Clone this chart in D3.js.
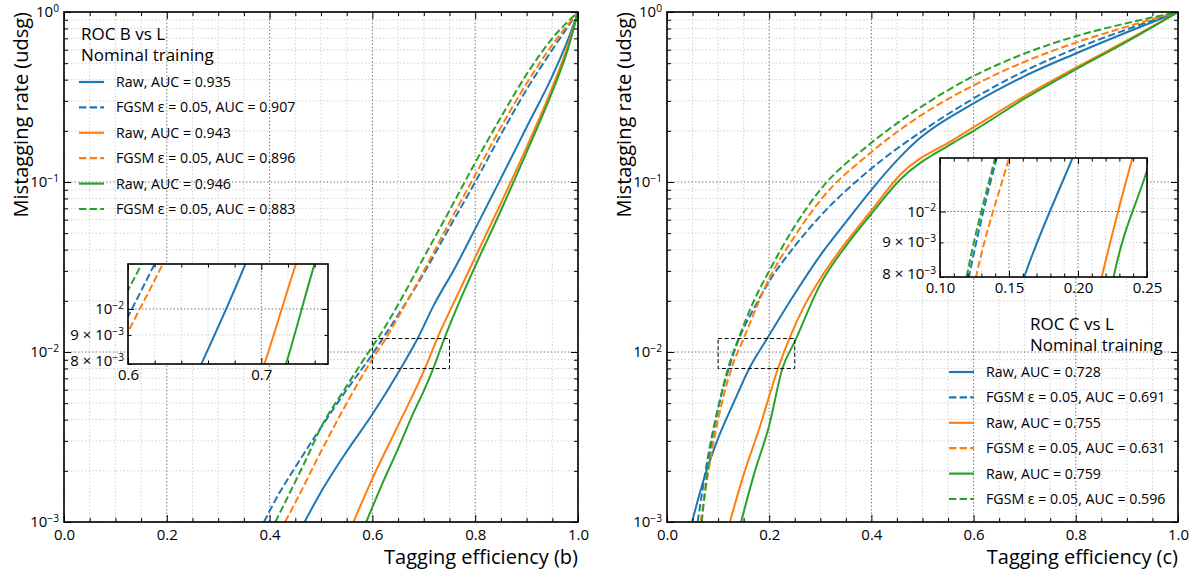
<!DOCTYPE html>
<html>
<head>
<meta charset="utf-8">
<script src="https://cdn.jsdelivr.net/npm/d3@7"></script>
<style>
  body { margin: 0; background: #fff; }
  text { font-family: "Open Sans", "DejaVu Sans", sans-serif; fill: #000; }
</style>
</head>
<body>
<svg id="chart" width="1195" height="571"></svg>
<script>
// ---- data (efficiency, mistag rate) ----
const colors = ['#1f77b4', '#ff7f0e', '#2ca02c']

// panel (b): ROC B vs L
const bBlueRaw = [[0.468,0.001],[0.5,0.0015],[0.55,0.0026],[0.6,0.0043],[0.655,0.008],[0.688,0.012],[0.72,0.019],[0.76,0.031],[0.8,0.053],[0.85,0.105],[0.9,0.21],[0.95,0.42],[0.98,0.68],[1,1]]
const bBlueFgsm = [[0.389,0.001],[0.42,0.0015],[0.45,0.0021],[0.5,0.0036],[0.55,0.006],[0.6,0.0097],[0.62,0.012],[0.65,0.0165],[0.7,0.029],[0.75,0.054],[0.8,0.1],[0.85,0.19],[0.9,0.35],[0.95,0.6],[1,1]]
const bOrangeRaw = [[0.563,0.001],[0.6,0.0018],[0.65,0.0037],[0.7023,0.008],[0.726,0.012],[0.76,0.02],[0.8,0.036],[0.85,0.075],[0.9,0.16],[0.95,0.36],[0.98,0.63],[1,1]]
const bOrangeFgsm = [[0.43,0.001],[0.45,0.0013],[0.5,0.0026],[0.55,0.005],[0.6,0.0091],[0.626,0.012],[0.65,0.016],[0.7,0.03],[0.75,0.058],[0.8,0.11],[0.85,0.21],[0.9,0.38],[0.95,0.64],[1,1]]
const bGreenRaw = [[0.588,0.001],[0.62,0.0017],[0.65,0.0027],[0.68,0.0044],[0.7,0.0059],[0.7185,0.008],[0.739,0.0118],[0.77,0.02],[0.8,0.032],[0.85,0.068],[0.9,0.15],[0.95,0.34],[0.98,0.6],[1,1]]
const bGreenFgsm = [[0.411,0.001],[0.44,0.0015],[0.47,0.0023],[0.5,0.0036],[0.55,0.0063],[0.6,0.0108],[0.6103,0.012],[0.65,0.019],[0.7,0.036],[0.75,0.068],[0.8,0.13],[0.85,0.24],[0.9,0.43],[0.95,0.7],[1,1]]
const bLabels = ['Raw, AUC = 0.935', 'FGSM ε = 0.05, AUC = 0.907', 'Raw, AUC = 0.943', 'FGSM ε = 0.05, AUC = 0.896', 'Raw, AUC = 0.946', 'FGSM ε = 0.05, AUC = 0.883']
const bTitle = ['ROC B vs L', 'Nominal training']

// panel (c): ROC C vs L
const cBlueRaw = [[0.049,0.001],[0.07,0.0017],[0.1,0.0031],[0.13,0.005],[0.161,0.008],[0.196,0.012],[0.25,0.022],[0.3,0.037],[0.35,0.058],[0.4,0.09],[0.456,0.14],[0.491,0.177],[0.6,0.29],[0.7,0.42],[0.8,0.57],[0.9,0.76],[1,1]]
const cBlueFgsm = [[0.06,0.001],[0.08,0.0024],[0.1,0.0047],[0.1209,0.008],[0.1411,0.012],[0.17,0.018],[0.2,0.026],[0.25,0.042],[0.3,0.063],[0.4,0.12],[0.5,0.2],[0.6,0.31],[0.7,0.45],[0.8,0.61],[0.9,0.79],[1,1]]
const cOrangeRaw = [[0.123,0.001],[0.15,0.0019],[0.18,0.0035],[0.2172,0.008],[0.2394,0.012],[0.27,0.019],[0.3,0.027],[0.35,0.044],[0.4,0.068],[0.456,0.11],[0.56,0.177],[0.6,0.21],[0.7,0.32],[0.8,0.47],[0.9,0.68],[1,1]]
const cOrangeFgsm = [[0.066,0.001],[0.08,0.0019],[0.1,0.004],[0.1261,0.008],[0.15,0.012],[0.2,0.027],[0.25,0.048],[0.3,0.078],[0.4,0.15],[0.5,0.25],[0.6,0.37],[0.7,0.51],[0.8,0.66],[0.9,0.82],[1,1]]
const cGreenRaw = [[0.145,0.001],[0.17,0.0019],[0.2,0.0037],[0.2258,0.008],[0.25,0.0115],[0.3,0.025],[0.35,0.042],[0.4,0.065],[0.456,0.103],[0.56,0.17],[0.6,0.2],[0.7,0.31],[0.8,0.46],[0.9,0.67],[1,1]]
const cGreenFgsm = [[0.068,0.001],[0.08,0.0021],[0.1,0.0046],[0.1193,0.008],[0.1399,0.012],[0.17,0.02],[0.2,0.03],[0.25,0.055],[0.3,0.09],[0.4,0.17],[0.5,0.28],[0.6,0.42],[0.7,0.57],[0.8,0.72],[0.9,0.86],[1,1]]
const cLabels = ['Raw, AUC = 0.728', 'FGSM ε = 0.05, AUC = 0.691', 'Raw, AUC = 0.755', 'FGSM ε = 0.05, AUC = 0.631', 'Raw, AUC = 0.759', 'FGSM ε = 0.05, AUC = 0.596']
const cTitle = ['ROC C vs L', 'Nominal training']

// ticks
const xMajor = [0, 0.2, 0.4, 0.6, 0.8, 1.0]
const xMinor = d3.range(0, 1.0001, 0.05).filter(v => Math.abs(v * 5 - Math.round(v * 5)) > 1e-6)
const yMajor = [1e-3, 1e-2, 1e-1, 1]
const yMinor = [1e-3, 1e-2, 1e-1].flatMap(d => d3.range(2, 10).map(k => k * d))

const svg = d3.select('#chart')
let clipId = 0

const sup = (sel, base, exp) => {
  sel.append('tspan').text(base)
  sel.append('tspan').attr('dy', '-0.5em').attr('font-size', '0.68em').text(exp)
}

const series = (blueRaw, blueFgsm, orangeRaw, orangeFgsm, greenRaw, greenFgsm) => [
  { pts: blueRaw, color: colors[0], dash: false },
  { pts: blueFgsm, color: colors[0], dash: true },
  { pts: orangeRaw, color: colors[1], dash: false },
  { pts: orangeFgsm, color: colors[1], dash: true },
  { pts: greenRaw, color: colors[2], dash: false },
  { pts: greenFgsm, color: colors[2], dash: true }
]

function drawCurves (g, x, y, curves) {
  const id = 'clip' + (clipId++)
  const [x0, x1] = x.range()
  const [y1, y0] = y.range()
  g.append('clipPath').attr('id', id)
    .append('rect').attr('x', x0).attr('y', y0).attr('width', x1 - x0).attr('height', y1 - y0)
  const line = d3.line().x(d => x(d[0])).y(d => y(d[1])).curve(d3.curveMonotoneX)
  g.append('g').attr('clip-path', `url(#${id})`)
    .selectAll('path').data(curves).join('path')
    .attr('d', d => line(d.pts))
    .attr('fill', 'none')
    .attr('stroke', d => d.color)
    .attr('stroke-width', 2)
    .attr('stroke-dasharray', d => d.dash ? '7.4,3.2' : null)
}

function drawGrid (g, x, y, xmaj, xmin, ymaj, ymin) {
  const [x0, x1] = x.range()
  const [y1, y0] = y.range()
  const gl = g.append('g').attr('fill', 'none')
  gl.selectAll('.vmin').data(xmin).join('line')
    .attr('x1', d => x(d)).attr('x2', d => x(d)).attr('y1', y0).attr('y2', y1)
    .attr('stroke', '#c8c8c8').attr('stroke-width', 0.8).attr('stroke-dasharray', '1.5,2')
  gl.selectAll('.hmin').data(ymin).join('line')
    .attr('y1', d => y(d)).attr('y2', d => y(d)).attr('x1', x0).attr('x2', x1)
    .attr('stroke', '#c8c8c8').attr('stroke-width', 0.8).attr('stroke-dasharray', '1.5,2')
  gl.selectAll('.vmaj').data(xmaj).join('line')
    .attr('x1', d => x(d)).attr('x2', d => x(d)).attr('y1', y0).attr('y2', y1)
    .attr('stroke', '#555').attr('stroke-width', 0.8).attr('stroke-dasharray', '1.5,2')
  gl.selectAll('.hmaj').data(ymaj).join('line')
    .attr('y1', d => y(d)).attr('y2', d => y(d)).attr('x1', x0).attr('x2', x1)
    .attr('stroke', '#555').attr('stroke-width', 0.8).attr('stroke-dasharray', '1.5,2')
}

// inward ticks on four sides using d3 axes
function drawFrame (g, x, y, xmaj, xmin, ymaj, ymin, big, small, pad, xfmt) {
  const [x0, x1] = x.range()
  const [y1, y0] = y.range()
  const clean = a => a.call(s => s.select('.domain').remove())
  const bottom = g.append('g').attr('transform', `translate(0,${y1})`)
    .call(d3.axisBottom(x).tickValues(xmaj).tickSize(-big).tickSizeOuter(0).tickPadding(pad).tickFormat(xfmt))
    .call(clean)
  bottom.attr('font-family', null)
  bottom.selectAll('text').attr('font-size', 15).attr('fill', '#000')
  g.append('g').attr('transform', `translate(0,${y1})`)
    .call(d3.axisBottom(x).tickValues(xmin).tickSize(-small).tickSizeOuter(0).tickFormat('')).call(clean)
  g.append('g').attr('transform', `translate(0,${y0})`)
    .call(d3.axisTop(x).tickValues(xmaj).tickSize(-big).tickSizeOuter(0).tickFormat('')).call(clean)
  g.append('g').attr('transform', `translate(0,${y0})`)
    .call(d3.axisTop(x).tickValues(xmin).tickSize(-small).tickSizeOuter(0).tickFormat('')).call(clean)
  g.append('g').attr('transform', `translate(${x0},0)`)
    .call(d3.axisLeft(y).tickValues(ymaj).tickSize(-big).tickSizeOuter(0).tickFormat('')).call(clean)
  g.append('g').attr('transform', `translate(${x0},0)`)
    .call(d3.axisLeft(y).tickValues(ymin).tickSize(-small).tickSizeOuter(0).tickFormat('')).call(clean)
  g.append('g').attr('transform', `translate(${x1},0)`)
    .call(d3.axisRight(y).tickValues(ymaj).tickSize(-big).tickSizeOuter(0).tickFormat('')).call(clean)
  g.append('g').attr('transform', `translate(${x1},0)`)
    .call(d3.axisRight(y).tickValues(ymin).tickSize(-small).tickSizeOuter(0).tickFormat('')).call(clean)
  g.selectAll('.tick line').attr('stroke', '#000').attr('stroke-width', 1)
  g.append('rect').attr('x', x0).attr('y', y0).attr('width', x1 - x0).attr('height', y1 - y0)
    .attr('fill', 'none').attr('stroke', '#000').attr('stroke-width', 1.6)
}

function drawPanel (cfg) {
  const x = d3.scaleLinear().domain([0, 1]).range([cfg.x0, cfg.x1])
  const y = d3.scaleLog().domain([1e-3, 1]).range([522, 12])
  const g = svg.append('g')

  drawGrid(g, x, y, xMajor, xMinor, yMajor, yMinor)
  drawCurves(g, x, y, cfg.curves)
  drawFrame(g, x, y, xMajor, xMinor, yMajor, yMinor, 7, 4, 7, d3.format('.1f'))

  // y tick labels 10^k
  g.selectAll('.ylab').data(yMajor).join('text')
    .attr('x', cfg.x0 - 5).attr('y', d => y(d) + 5)
    .attr('text-anchor', 'end').attr('font-size', 15)
    .each(function (d) {
      const k = Math.round(Math.log10(d))
      sup(d3.select(this), '10', k < 0 ? '\u2212' + (-k) : String(k))
    })

  // zoom box
  const ins = cfg.inset
  g.append('rect')
    .attr('x', x(ins.xdom[0])).attr('y', y(ins.ydom[1]))
    .attr('width', x(ins.xdom[1]) - x(ins.xdom[0])).attr('height', y(ins.ydom[0]) - y(ins.ydom[1]))
    .attr('fill', 'none').attr('stroke', '#000').attr('stroke-width', 1).attr('stroke-dasharray', '4,2.5')

  // inset
  const ix = d3.scaleLinear().domain(ins.xdom).range([ins.left, ins.right])
  const iy = d3.scaleLog().domain(ins.ydom).range([ins.bottom, ins.top])
  const ig = svg.append('g')
  ig.append('rect').attr('x', ins.left).attr('y', ins.top)
    .attr('width', ins.right - ins.left).attr('height', ins.bottom - ins.top).attr('fill', '#fff')
  drawGrid(ig, ix, iy, ins.xmaj, ins.xmin, [0.01], [0.009])
  drawCurves(ig, ix, iy, cfg.curves)
  drawFrame(ig, ix, iy, ins.xmaj, ins.xmin, [0.01], [0.008, 0.009], 6, 3.5, 5, ins.xfmt)
  const ylabs = [[0.01, '10', '\u22122', 5], [0.009, '9 \u00d7 10', '\u22123', 5], [0.008, '8 \u00d7 10', '\u22123', 2]]
  ig.selectAll('.iylab').data(ylabs).join('text')
    .attr('x', ins.left - 4).attr('y', d => iy(d[0]) + d[3])
    .attr('text-anchor', 'end').attr('font-size', 15)
    .each(function (d) { sup(d3.select(this), d[1], d[2]) })

  // legend
  const lg = svg.append('g')
  cfg.title.forEach((t, i) => {
    lg.append('text').attr('x', cfg.legend.tx).attr('y', cfg.legend.ty + i * 21 + 6)
      .attr('font-size', 17).text(t)
  })
  cfg.labels.forEach((t, i) => {
    const yy = cfg.legend.y0 + i * 25.4
    const c = cfg.curves[i]
    lg.append('line').attr('x1', cfg.legend.lx).attr('x2', cfg.legend.lx + 25)
      .attr('y1', yy).attr('y2', yy).attr('stroke', c.color).attr('stroke-width', 2.2)
      .attr('stroke-dasharray', c.dash ? '7.4,3.2' : null)
    lg.append('text').attr('x', cfg.legend.lx + 37).attr('y', yy + 5)
      .attr('font-size', 14.2).text(t)
  })

  // axis titles
  svg.append('text').attr('x', cfg.x1).attr('y', 564).attr('text-anchor', 'end')
    .attr('font-size', 20).text(cfg.xlabel)
  svg.append('text').attr('transform', `translate(${cfg.x0 - 36},12) rotate(-90)`)
    .attr('text-anchor', 'end').attr('font-size', 20).text('Mistagging rate (udsg)')
}

drawPanel({
  x0: 64, x1: 578,
  curves: series(bBlueRaw, bBlueFgsm, bOrangeRaw, bOrangeFgsm, bGreenRaw, bGreenFgsm),
  labels: bLabels, title: bTitle,
  legend: { tx: 81, ty: 34, lx: 79, y0: 82 },
  xlabel: 'Tagging efficiency (b)',
  inset: {
    xdom: [0.6, 0.75], ydom: [0.008, 0.012],
    left: 128, right: 328, top: 264, bottom: 364,
    xmaj: [0.6, 0.7], xmin: [0.62, 0.64, 0.66, 0.68, 0.72, 0.74],
    xfmt: d3.format('.1f')
  }
})

drawPanel({
  x0: 667, x1: 1178,
  curves: series(cBlueRaw, cBlueFgsm, cOrangeRaw, cOrangeFgsm, cGreenRaw, cGreenFgsm),
  labels: cLabels, title: cTitle,
  legend: { tx: 1030, ty: 324, lx: 949, y0: 372 },
  xlabel: 'Tagging efficiency (c)',
  inset: {
    xdom: [0.1, 0.25], ydom: [0.008, 0.012],
    left: 940, right: 1147, top: 158, bottom: 277,
    xmaj: [0.1, 0.15, 0.2, 0.25],
    xmin: d3.range(0.11, 0.25, 0.01).filter(v => Math.abs(v * 20 - Math.round(v * 20)) > 1e-6),
    xfmt: d3.format('.2f')
  }
})
</script>
</body>
</html>
